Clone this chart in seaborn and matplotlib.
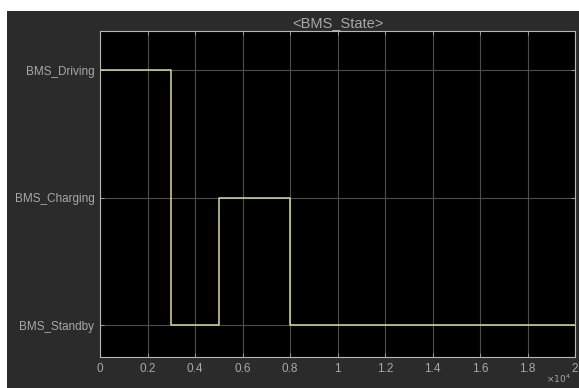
import numpy as np
import pandas as pd
import matplotlib
matplotlib.use("Agg")
import matplotlib.pyplot as plt
import seaborn as sns
from matplotlib.patches import Rectangle
from matplotlib.ticker import FuncFormatter

# signal data (time in samples, state name)
times = [0, 0, 3000, 5000, 8000, 20000]
states = ['BMS_Standby', 'BMS_Driving', 'BMS_Standby', 'BMS_Charging', 'BMS_Standby', 'BMS_Standby']
state_order = ['BMS_Standby', 'BMS_Charging', 'BMS_Driving']
x_ticks = [0, 2000, 4000, 6000, 8000, 10000, 12000, 14000, 16000, 18000, 20000]

df = pd.DataFrame({'time': times, 'state': states})
df['code'] = df['state'].map({s: i for i, s in enumerate(state_order)})

sns.set_style("dark")
plt.rcParams['font.family'] = ['Liberation Sans', 'DejaVu Sans']

panel = '#2b2b2b'
txt = '#a8a8a8'

fig = plt.figure(figsize=(5.79, 3.88), dpi=100, facecolor='white')
fig.patches.append(Rectangle((7 / 579, 0), 1, 1 - 11 / 388, transform=fig.transFigure,
                             facecolor=panel, edgecolor='none', zorder=-1))
ax = fig.add_axes([100 / 579, 1 - 357 / 388, 475 / 579, (357 - 31) / 388])
ax.set_facecolor('black')

sns.lineplot(data=df, x='time', y='code', ax=ax, drawstyle='steps-post',
             color='#dcd89c', linewidth=1.1, estimator=None, sort=False)

ax.set_xlim(0, 20000)
ax.set_ylim(-0.25, 2.31)
ax.set_xticks(x_ticks)
ax.xaxis.set_major_formatter(FuncFormatter(lambda v, p: '%g' % (v / 1e4)))
ax.set_yticks(range(len(state_order)))
ax.set_yticklabels(state_order)
ax.set_xlabel('')
ax.set_ylabel('')

ax.grid(True, color='#4d4d4d', linewidth=0.8)
ax.tick_params(colors=txt, labelsize=8.5, direction='in', length=3, width=0.6,
               top=True, right=True, left=True, bottom=True)
ax.tick_params(axis='x', pad=4)
ax.tick_params(axis='y', pad=4)
for s in ax.spines.values():
    s.set_visible(True)
    s.set_color('#b8b8b8')
    s.set_linewidth(0.8)

ax.set_title('<BMS_State>', color=txt, fontsize=10.5, pad=3)
fig.text(571 / 579, 1 - 379 / 388, r'$\times10^4$', color=txt, fontsize=6.5, ha='right', va='center')

fig.savefig('out.png', dpi=100, facecolor=fig.get_facecolor())
